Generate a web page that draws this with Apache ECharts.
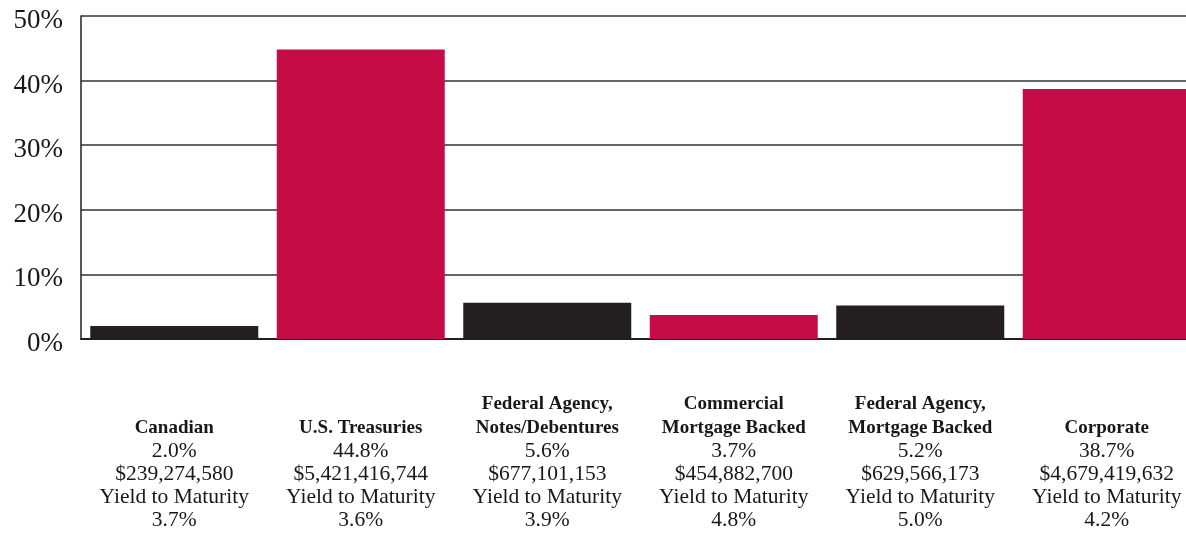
<!DOCTYPE html>
<html>
<head>
<meta charset="utf-8">
<script src="https://cdn.jsdelivr.net/npm/echarts@6/dist/echarts.min.js"></script>
<style>
  html, body { margin: 0; padding: 0; background: #fff; }
  #chart { width: 1186px; height: 533px; }
</style>
</head>
<body>
<div id="chart"></div>
<script>
// Portfolio composition by sector
const nameLines = [
  ['Canadian'],
  ['U.S. Treasuries'],
  ['Federal Agency,', 'Notes/Debentures'],
  ['Commercial', 'Mortgage Backed'],
  ['Federal Agency,', 'Mortgage Backed'],
  ['Corporate']
];
const shares = [2.0, 44.8, 5.6, 3.7, 5.2, 38.7];
const amounts = ['$239,274,580', '$5,421,416,744', '$677,101,153', '$454,882,700', '$629,566,173', '$4,679,419,632'];
const yields = [3.7, 3.6, 3.9, 4.8, 5.0, 4.2];
const yTicks = [0, 10, 20, 30, 40, 50];

const barColors = ['#231f20', '#c60c46'];
const serif = '"Liberation Serif", "Times New Roman", serif';

const categories = nameLines.map(l => l.join(' '));

const chart = echarts.init(document.getElementById('chart'));
chart.setOption({
  animation: false,
  // the plot runs a little past the right edge of the page
  grid: {
    left: 81, width: 1119, top: 16, height: 323,
    containLabel: false,
    outerBoundsMode: 'none'
  },
  xAxis: {
    type: 'category',
    data: categories,
    axisTick: { show: false },
    axisLine: { show: true, lineStyle: { color: '#231f20', width: 2 } },
    axisLabel: {
      interval: 0,
      margin: 193,
      verticalAlign: 'bottom',
      align: 'center',
      formatter: function (value) {
        const i = categories.indexOf(value);
        const head = nameLines[i].map(s => '{b|' + s + '}').join('\n');
        return head + '\n{v|' + shares[i].toFixed(1) + '%}' +
          '\n{v|' + amounts[i] + '}' +
          '\n{v|Yield to Maturity}' +
          '\n{v|' + yields[i].toFixed(1) + '%}';
      },
      rich: {
        b: { fontFamily: serif, fontWeight: 'bold', fontSize: 19, lineHeight: 24, color: '#1a1718', align: 'center' },
        v: { fontFamily: serif, fontSize: 21.5, lineHeight: 23, color: '#1a1718', align: 'center' }
      }
    }
  },
  yAxis: {
    type: 'value',
    min: yTicks[0],
    max: yTicks[yTicks.length - 1],
    interval: 10,
    axisLine: { show: true, lineStyle: { color: '#231f20', width: 1.5 } },
    axisTick: { show: false },
    axisLabel: {
      formatter: '{value}%',
      margin: 18,
      verticalAlign: 'top',
      lineHeight: 10,
      fontFamily: serif,
      fontSize: 27,
      color: '#1a1718'
    },
    splitLine: { show: true, lineStyle: { color: '#333333', width: 1.6 } }
  },
  series: [{
    type: 'bar',
    data: shares,
    barWidth: 168,
    itemStyle: {
      color: function (p) { return barColors[p.dataIndex % 2]; }
    }
  }]
});
</script>
</body>
</html>
